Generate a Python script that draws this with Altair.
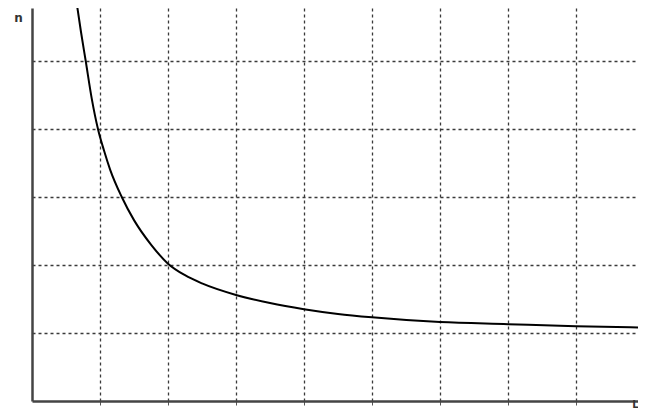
import altair as alt
import pandas as pd

# curve
curve_x = [0.65, 0.72, 0.79, 0.88, 0.97, 1.06, 1.15, 1.32, 1.5, 1.75, 2.0, 2.25, 2.5, 3.0, 3.5, 4.0, 4.5, 5.0, 6.0, 7.0, 8.0, 9.0]
curve_y = [5.9, 5.43, 5.0, 4.44, 4.0, 3.68, 3.40, 3.0, 2.66, 2.3, 2.02, 1.85, 1.73, 1.56, 1.44, 1.35, 1.28, 1.23, 1.16, 1.13, 1.10, 1.08]

x_grid = [1, 2, 3, 4, 5, 6, 7, 8, 9]
y_grid = [1, 2, 3, 4, 5]

x_title = "L"
y_title = "n"

df = pd.DataFrame({"x": curve_x, "y": curve_y})

grid_dash = [3, 3]
grid_color = "#3a3a3a"

chart = alt.Chart(df).mark_line(color="black", strokeWidth=2, interpolate="monotone", clip=True).encode(
    x=alt.X("x:Q",
            scale=alt.Scale(domain=[0, 606 / 68], nice=False, zero=False),
            axis=alt.Axis(values=x_grid, labels=False, ticks=True, tickSize=4, tickColor="#555",
                          domainColor="#444", domainWidth=2.5,
                          grid=True, gridDash=grid_dash, gridColor=grid_color, gridWidth=1.3,
                          title=x_title, titleAngle=0, titleX=603, titleY=8,
                          titleBaseline="bottom", titleAlign="center",
                          titleFontSize=10, titleFont="DejaVu Sans", titleFontWeight="bold",
                          titleColor="#333")),
    y=alt.Y("y:Q",
            scale=alt.Scale(domain=[0, 393 / 68], nice=False, zero=False),
            axis=alt.Axis(values=y_grid, labels=False, ticks=False,
                          domainColor="#444", domainWidth=2.5,
                          grid=True, gridDash=grid_dash, gridColor=grid_color, gridWidth=1.3,
                          title=y_title, titleAngle=0, titleX=-14, titleY=9,
                          titleBaseline="middle", titleAlign="center",
                          titleFontSize=12, titleFont="DejaVu Sans", titleFontWeight="bold",
                          titleColor="#333")),
).properties(
    width=606,
    height=393,
    autosize=alt.AutoSizeParams(type="none"),
    padding={"left": 24, "top": 0, "right": 0, "bottom": 9},
    background="white",
).configure_view(stroke=None)

chart.save("out.html", embed_options={"renderer": "svg", "actions": False})
